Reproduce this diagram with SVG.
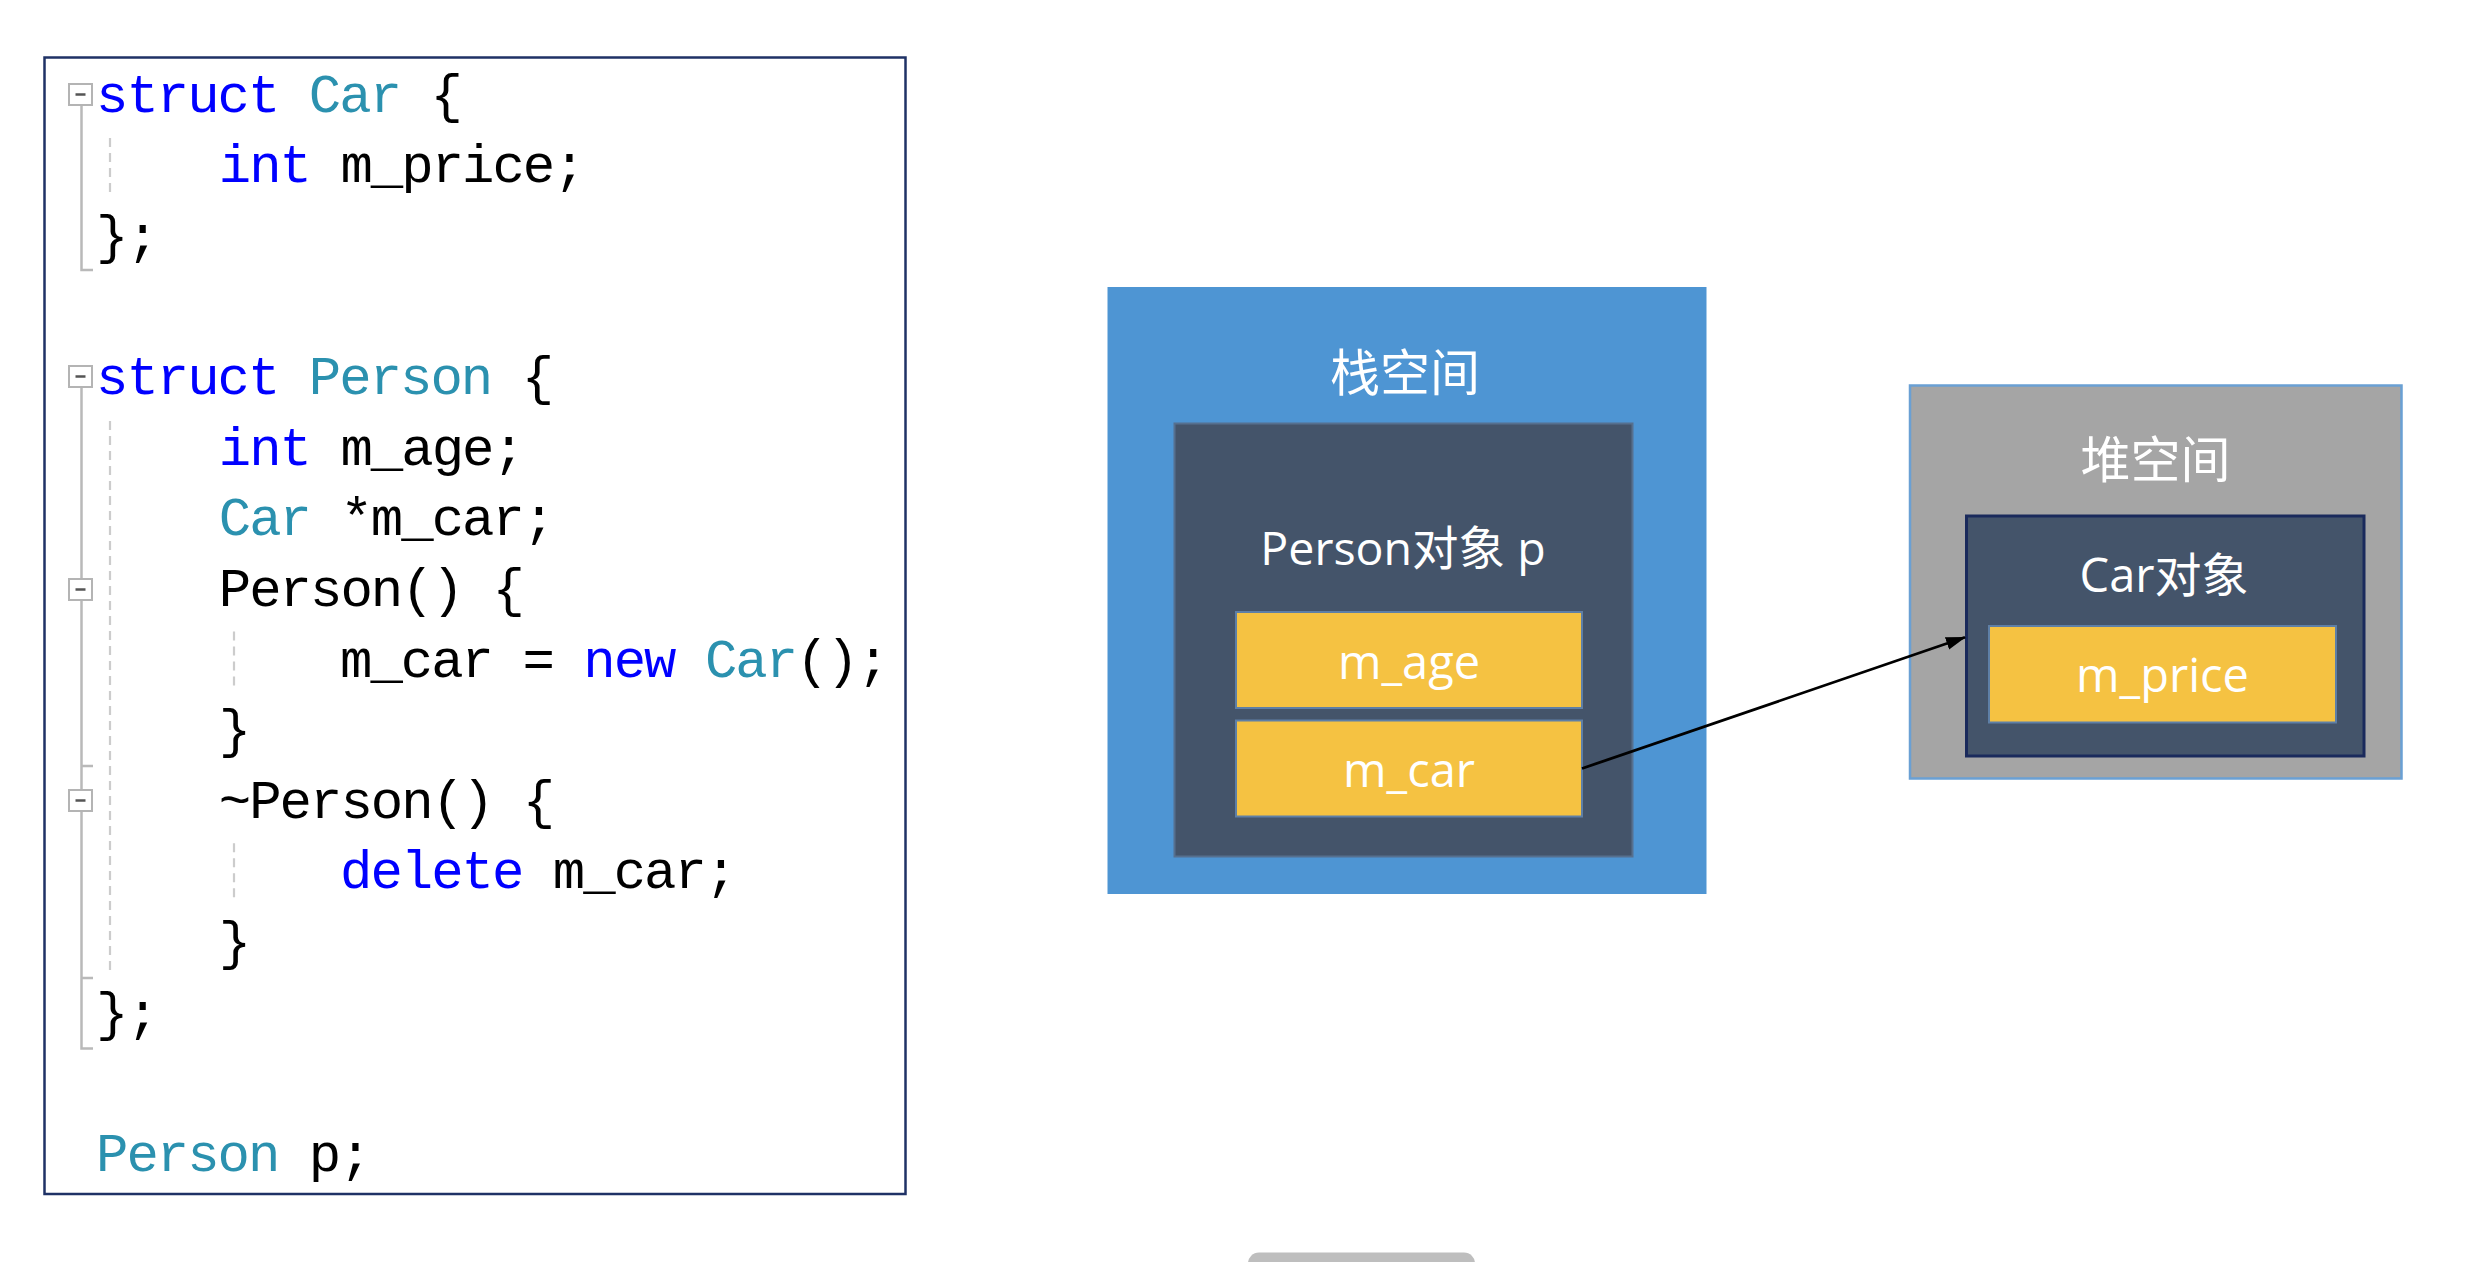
<svg xmlns="http://www.w3.org/2000/svg" width="2466" height="1262" viewBox="0 0 2466 1262">
<defs>
<style>
.code{font-family:"Liberation Mono","DejaVu Sans Mono",monospace;font-size:54px;letter-spacing:-2px;fill:#000}
.kw{fill:#0000FF}
.ty{fill:#2B91AF}
.fold{fill:#fff;stroke:#b4b4b4;stroke-width:2}
.minus{stroke:#555;stroke-width:2.5}
.guide{stroke:#b9b9b9;stroke-width:2.5;fill:none}
.dash{stroke:#cccccc;stroke-width:2.2;stroke-dasharray:9 6;fill:none}
.lbl{font-family:"Open Sans","Noto Sans CJK SC",sans-serif;fill:#fff;text-anchor:middle}
.cjk{font-family:"Noto Sans CJK SC",sans-serif;fill:#fff;text-anchor:middle;font-size:50px}
.obj{fill:#44546A}
.field{fill:#F5C242;stroke:#5E7FA6;stroke-width:2}
</style>
<marker id="ah" markerWidth="22" markerHeight="16" refX="19" refY="8" orient="auto" markerUnits="userSpaceOnUse">
<path d="M0,1.5 L20,8 L0,14.5 Z" fill="#000"/>
</marker>
</defs>
<rect width="2466" height="1262" fill="#fff"/>

<g id="code">
<rect x="44.5" y="57.5" width="861" height="1136.5" fill="#fff" stroke="#1F3266" stroke-width="2.5"/>
<g id="gutter">
<path class="guide" d="M81.5,106 V270 H93"/>
<path class="guide" d="M81.5,388 V578 M81.5,600 V790 M81.5,812 V1048.5 H93 M81.5,766 H93 M81.5,978 H93"/>
<path class="dash" d="M110,138 V193 M110,421 V970 M234,631.5 V687.5 M234,843.3 V899.3"/>
<rect class="fold" x="69" y="84" width="23" height="21"/>
<line class="minus" x1="75.5" y1="94.5" x2="85.5" y2="94.5"/>
<rect class="fold" x="69" y="366" width="23" height="21"/>
<line class="minus" x1="75.5" y1="376.5" x2="85.5" y2="376.5"/>
<rect class="fold" x="69" y="579" width="23" height="21"/>
<line class="minus" x1="75.5" y1="589.5" x2="85.5" y2="589.5"/>
<rect class="fold" x="69" y="790" width="23" height="21"/>
<line class="minus" x1="75.5" y1="800.5" x2="85.5" y2="800.5"/>
</g>
<text class="code" x="96" y="111.7"><tspan class="kw">struct</tspan> <tspan class="ty">Car</tspan> {</text>
<text class="code" x="218.8" y="182.3"><tspan class="kw">int</tspan> m_price;</text>
<text class="code" x="96" y="252.9">};</text>
<text class="code" x="96" y="394.1"><tspan class="kw">struct</tspan> <tspan class="ty">Person</tspan> {</text>
<text class="code" x="218.8" y="464.7"><tspan class="kw">int</tspan> m_age;</text>
<text class="code" x="218.8" y="535.3"><tspan class="ty">Car</tspan> *m_car;</text>
<text class="code" x="218.8" y="605.9">Person() {</text>
<text class="code" x="340" y="676.5">m_car = <tspan class="kw">new</tspan> <tspan class="ty">Car</tspan>();</text>
<text class="code" x="218.8" y="747.1">}</text>
<text class="code" x="218.8" y="817.7">~Person() {</text>
<text class="code" x="340" y="888.3"><tspan class="kw">delete</tspan> m_car;</text>
<text class="code" x="218.8" y="958.9">}</text>
<text class="code" x="96" y="1029.5">};</text>
<text class="code" x="96" y="1170.7"><tspan class="ty">Person</tspan> p;</text>
</g>

<g id="stack">
<rect x="1107.5" y="287" width="599" height="607" fill="#4E95D3"/>
<text class="cjk" x="1405" y="391">栈空间</text>
</g>
<g id="person">
<rect class="obj" x="1174.5" y="423.5" width="458" height="433" stroke="#56708F" stroke-width="2"/>
<text class="lbl" x="1403" y="565" font-size="46.5">Person对象 p</text>
</g>
<g id="m_age">
<rect class="field" x="1236" y="612" width="346" height="96"/>
<text class="lbl" x="1409" y="678.5" font-size="47">m_age</text>
</g>
<g id="m_car">
<rect class="field" x="1236" y="720.5" width="346" height="96"/>
<text class="lbl" x="1409" y="786.5" font-size="47">m_car</text>
</g>

<g id="heap">
<rect x="1910" y="385.5" width="491.5" height="393" fill="#A5A5A5" stroke="#6AA0D4" stroke-width="2.5"/>
<text class="cjk" x="2155.5" y="478">堆空间</text>
</g>
<g id="car">
<rect class="obj" x="1966.5" y="516" width="397.5" height="240" stroke="#1A2A5C" stroke-width="3"/>
<text class="lbl" x="2164" y="591.7" font-size="47">Car对象</text>
</g>
<g id="m_price">
<rect class="field" x="1989" y="626" width="347" height="96.5"/>
<text class="lbl" x="2162.5" y="691.7" font-size="47">m_price</text>
</g>

<g id="connectors">
<line x1="1582" y1="768.5" x2="1965" y2="637.3" stroke="#000" stroke-width="2.8" marker-end="url(#ah)"/>
</g>

<rect x="1248" y="1252.5" width="227" height="30" rx="11" fill="#BEBEBE"/>
</svg>
